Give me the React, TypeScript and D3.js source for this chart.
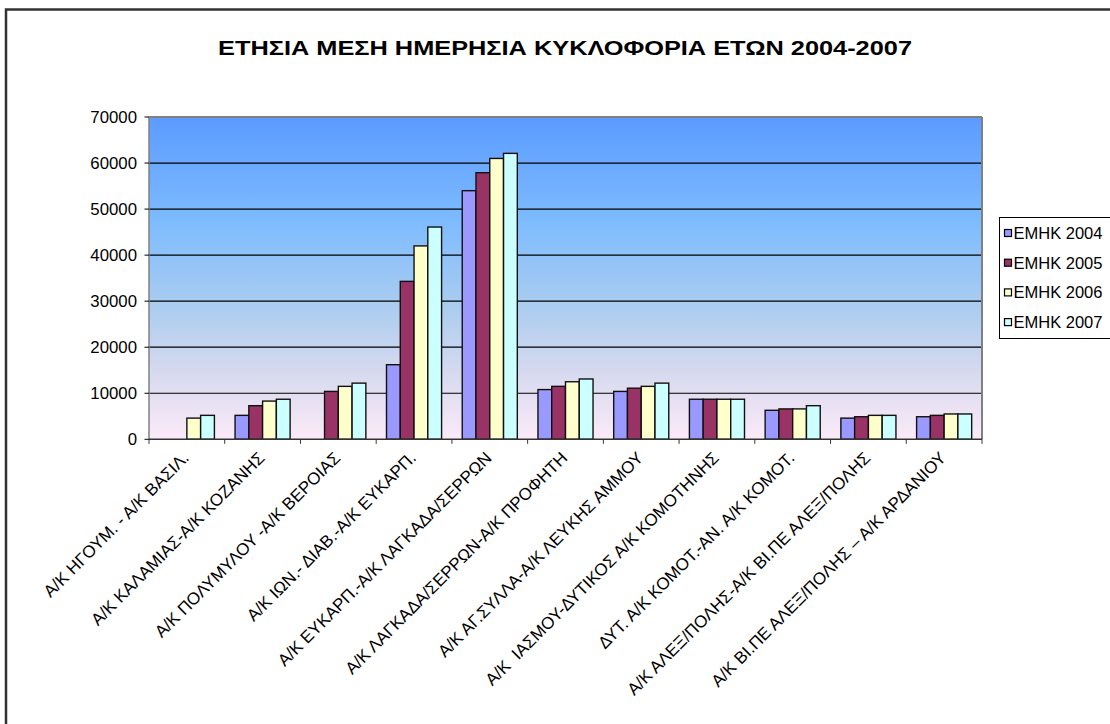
import React from "react";
import * as d3 from "d3";

const categories = [
  "Α/Κ ΗΓΟΥΜ. - Α/Κ ΒΑΣΙΛ.",
  "Α/Κ ΚΑΛΑΜΙΑΣ-Α/Κ ΚΟΖΑΝΗΣ",
  "Α/Κ ΠΟΛΥΜΥΛΟΥ -Α/Κ ΒΕΡΟΙΑΣ",
  "Α/Κ ΙΩΝ.- ΔΙΑΒ.-Α/Κ ΕΥΚΑΡΠ.",
  "Α/Κ ΕΥΚΑΡΠ.-Α/Κ ΛΑΓΚΑΔΑ/ΣΕΡΡΩΝ",
  "Α/Κ ΛΑΓΚΑΔΑ/ΣΕΡΡΩΝ-Α/Κ ΠΡΟΦΗΤΗ",
  "Α/Κ ΑΓ.ΣΥΛΛΑ-Α/Κ ΛΕΥΚΗΣ ΑΜΜΟΥ",
  "Α/Κ  ΙΑΣΜΟΥ-ΔΥΤΙΚΟΣ Α/Κ ΚΟΜΟΤΗΝΗΣ",
  "ΔΥΤ. Α/Κ ΚΟΜΟΤ.-ΑΝ. Α/Κ ΚΟΜΟΤ.",
  "Α/Κ ΑΛΕΞ/ΠΟΛΗΣ-Α/Κ ΒΙ.ΠΕ ΑΛΕΞ/ΠΟΛΗΣ",
  "Α/Κ ΒΙ.ΠΕ ΑΛΕΞ/ΠΟΛΗΣ – Α/Κ ΑΡΔΑΝΙΟΥ",
];

const seriesNames = ["ΕΜΗΚ 2004", "ΕΜΗΚ 2005", "ΕΜΗΚ 2006", "ΕΜΗΚ 2007"];
const seriesColors = ["#9999FF", "#993366", "#FFFFCC", "#CCFFFF"];

const v2004 = [null, 5200, null, 16200, 54000, 10800, 10400, 8700, 6300, 4600, 4900];
const v2005 = [null, 7300, 10400, 34300, 57900, 11500, 11100, 8700, 6600, 4900, 5200];
const v2006 = [4600, 8300, 11500, 42000, 61000, 12500, 11500, 8700, 6600, 5200, 5500];
const v2007 = [5200, 8700, 12200, 46100, 62100, 13100, 12200, 8700, 7300, 5200, 5500];
const seriesValues = [v2004, v2005, v2006, v2007];

const yTicks = [0, 10000, 20000, 30000, 40000, 50000, 60000, 70000];

const title = "ΕΤΗΣΙΑ ΜΕΣΗ ΗΜΕΡΗΣΙΑ ΚΥΚΛΟΦΟΡΙΑ ΕΤΩΝ 2004-2007";

export default function App() {
  const W = 1110;
  const H = 724;
  const left = 149;
  const right = 982;
  const top = 117;
  const bottom = 439.3;
  const font = "'Liberation Sans', Arial, sans-serif";

  const x0 = d3.scaleBand<string>().domain(categories).range([left, right]).padding(0);
  const bw = x0.bandwidth();
  const barW = bw / 5.5;
  const x1 = d3
    .scaleBand<string>()
    .domain(seriesNames)
    .range([barW * 0.75, barW * 4.75])
    .padding(0);
  const y = d3.scaleLinear().domain([0, 70000]).range([bottom, top]);

  return (
    <svg
      width={W}
      height={H}
      style={{ position: "absolute", left: 0, top: 0 }}
      fontFamily={font}
    >
      <defs>
        <linearGradient id="bg" x1="0" y1="0" x2="0" y2="1">
          <stop offset="0" stopColor="#5B9BFF" />
          <stop offset="0.32" stopColor="#7DBBFF" />
          <stop offset="0.58" stopColor="#A9CCF0" />
          <stop offset="0.8" stopColor="#D8DAEF" />
          <stop offset="1" stopColor="#FBEAF8" />
        </linearGradient>
      </defs>
      <rect x={0} y={0} width={W} height={H} fill="#fff" />
      <rect x={6} y={9.5} width={1300} height={900} fill="none" stroke="#333" strokeWidth={2.5} />

      <text
        x={565}
        y={54.5}
        textAnchor="middle"
        fontWeight="bold"
        fontSize={21}
        fill="#000"
        textLength={694}
        lengthAdjust="spacingAndGlyphs"
      >
        {title}
      </text>

      {/* plot area */}
      <rect x={left} y={top} width={right - left} height={bottom - top} fill="url(#bg)" />
      {yTicks.slice(1, -1).map((t) => (
        <line key={t} x1={left} x2={right} y1={y(t)} y2={y(t)} stroke="#000" strokeWidth={1.2} />
      ))}
      <line x1={left} x2={right} y1={top} y2={top} stroke="#808080" strokeWidth={2} />
      <line x1={right} x2={right} y1={top} y2={bottom} stroke="#808080" strokeWidth={2} />

      {/* bars */}
      {categories.map((c, i) => (
        <g key={c} transform={`translate(${x0(c)},0)`}>
          {seriesNames.map((s, j) => {
            const v = seriesValues[j][i];
            if (v == null) return null;
            return (
              <rect
                key={s}
                x={x1(s)}
                y={y(v)}
                width={x1.bandwidth()}
                height={y(0) - y(v)}
                fill={seriesColors[j]}
                stroke="#111"
                strokeWidth={1.4}
              />
            );
          })}
        </g>
      ))}

      {/* y axis */}
      <line x1={left} x2={left} y1={top} y2={bottom} stroke="#808080" strokeWidth={1.5} />
      {yTicks.map((t) => (
        <g key={t}>
          <line x1={left - 4.5} x2={left} y1={y(t)} y2={y(t)} stroke="#000" strokeWidth={1} />
          <text x={137} y={y(t)} dy="0.36em" textAnchor="end" fontSize={16.8} fill="#000">
            {t}
          </text>
        </g>
      ))}

      {/* x axis */}
      <line x1={left} x2={right} y1={bottom} y2={bottom} stroke="#333" strokeWidth={1.5} />
      {categories.map((c, i) => (
        <line
          key={"t" + i}
          x1={x0(c)}
          x2={x0(c)}
          y1={bottom}
          y2={bottom + 4.5}
          stroke="#333"
          strokeWidth={1}
        />
      ))}
      <line x1={right} x2={right} y1={bottom} y2={bottom + 4.5} stroke="#333" strokeWidth={1} />
      {categories.map((c) => {
        const cx = (x0(c) as number) + bw / 2 + 3;
        const cy = 459;
        return (
          <text
            key={"l" + c}
            x={cx}
            y={cy}
            textAnchor="end"
            fontSize={17}
            fill="#000"
            transform={`rotate(-45 ${cx} ${cy})`}
            style={{ whiteSpace: "pre" }}
          >
            {c}
          </text>
        );
      })}

      {/* legend */}
      <rect x={999.5} y={217.5} width={200} height={121} fill="#fff" stroke="#000" strokeWidth={1} />
      {seriesNames.map((s, j) => {
        const ly = 233 + j * 29.7;
        return (
          <g key={s}>
            <rect x={1004.5} y={ly - 3.5} width={7} height={7} fill={seriesColors[j]} stroke="#000" strokeWidth={1.2} />
            <text x={1013.5} y={ly} dy="0.36em" fontSize={16.5} fill="#000">
              {s}
            </text>
          </g>
        );
      })}
    </svg>
  );
}
